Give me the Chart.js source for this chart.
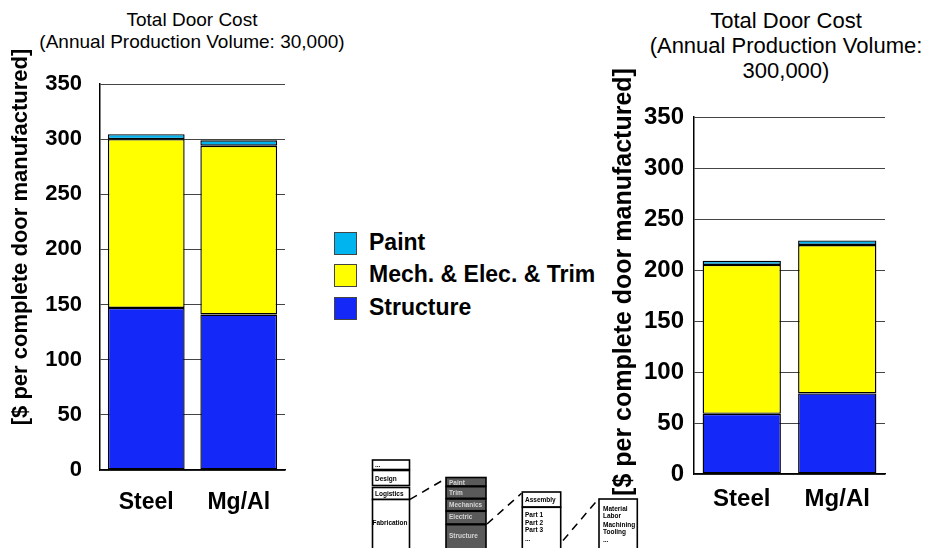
<!DOCTYPE html>
<html>
<head>
<meta charset="utf-8">
<script src="https://cdn.jsdelivr.net/npm/chart.js@4.4.0/dist/chart.umd.min.js"></script>
<style>
  html, body { margin: 0; padding: 0; background: #fff; }
  body { width: 928px; height: 548px; position: relative; overflow: hidden;
         font-family: 'Liberation Sans', Arial, sans-serif; color: #000; }
  canvas { position: absolute; }
  .title { position: absolute; text-align: center; white-space: nowrap; }
  .ytitle { position: absolute; font-weight: bold; white-space: nowrap;
            transform: translate(-50%, -50%) rotate(-90deg); }
  .legend { position: absolute; left: 334px; top: 232px; }
  .legend div { height: 32.3px; position: relative; }
  .legend span.box { position: absolute; left: 0; top: 0; width: 21px; height: 21px;
                     border: 1px solid #444; }
  .legend span.txt { position: absolute; left: 35px; top: -3px; font-size: 23px;
                     font-weight: bold; line-height: 27px; white-space: nowrap; }
  svg { position: absolute; left: 0; top: 0; }
</style>
</head>
<body>

<div class="title" style="left:192px; top:9px; transform:translateX(-50%); font-size:19px; line-height:22px;">
  Total Door Cost<br>(Annual Production Volume: 30,000)
</div>
<div class="title" style="left:786px; top:8px; transform:translateX(-50%); font-size:22px; line-height:25px;">
  Total Door Cost<br>(Annual Production Volume:<br>300,000)
</div>

<canvas id="chartLow" width="300" height="548" style="left:0; top:0;"></canvas>
<canvas id="chartHigh" width="292" height="548" style="left:636px; top:0;"></canvas>

<div class="legend" id="legend"></div>

<!-- cost breakdown sketch under the legend -->
<svg width="928" height="548" font-family="Liberation Sans, Arial, sans-serif" font-weight="bold" font-size="6.5">
  <g stroke="#000" stroke-width="1.6" fill="#fff">
    <rect x="372.5" y="460" width="37" height="9.5"/>
    <rect x="372.5" y="470.5" width="37" height="15"/>
    <rect x="372.5" y="487.5" width="37" height="12"/>
    <rect x="372.5" y="499.5" width="37" height="52"/>
  </g>
  <g fill="#000">
    <text x="375" y="467">...</text>
    <text x="375" y="481">Design</text>
    <text x="375" y="496">Logistics</text>
    <text x="372.5" y="525">Fabrication</text>
  </g>
  <g stroke="#000" stroke-width="1.6" fill="#5a5a5a">
    <rect x="446" y="477.5" width="40" height="8.5"/>
    <rect x="446" y="486.7" width="40" height="11.6"/>
    <rect x="446" y="499" width="40" height="11.7"/>
    <rect x="446" y="511.3" width="40" height="12.7"/>
    <rect x="446" y="524.7" width="40" height="27"/>
  </g>
  <g fill="#d4d4d4">
    <text x="449" y="484.5">Paint</text>
    <text x="449" y="495">Trim</text>
    <text x="449" y="506.5">Mechanics</text>
    <text x="449" y="519">Electric</text>
    <text x="449" y="538">Structure</text>
  </g>
  <g stroke="#000" stroke-width="1.6" fill="#fff">
    <rect x="522.3" y="492" width="38.4" height="15"/>
    <rect x="522.3" y="507.3" width="38.4" height="44"/>
    <rect x="599" y="499" width="38.3" height="52"/>
  </g>
  <g fill="#000">
    <text x="525" y="501.5">Assembly</text>
    <text x="525" y="517">Part 1</text>
    <text x="525" y="524.5">Part 2</text>
    <text x="525" y="532">Part 3</text>
    <text x="525" y="541">...</text>
    <text x="603" y="511">Material</text>
    <text x="603" y="518">Labor</text>
    <text x="603" y="527">Machining</text>
    <text x="603" y="533.5">Tooling</text>
    <text x="603" y="542">...</text>
  </g>
  <g stroke="#000" stroke-width="1.5" stroke-dasharray="8 6" fill="none">
    <line x1="410" y1="499.3" x2="445" y2="479"/>
    <line x1="487" y1="524" x2="521.5" y2="493.3"/>
    <line x1="563" y1="540.5" x2="597.5" y2="500"/>
  </g>
</svg>

<div class="ytitle" style="left:20px; top:237px; font-size:22px;">[$ per complete door manufactured]</div>
<div class="ytitle" style="left:622px; top:282px; font-size:25px;">[$ per complete door manufactured]</div>

<script>
// door cost in $ per door, split by cost group
const materials = ['Steel', 'Mg/Al'];
const seriesNames = ['Structure', 'Mech. & Elec. & Trim', 'Paint'];
const seriesColors = ['#1428F8', '#FFFF00', '#00B4F0'];

// annual volume 30,000
const structure30k = [147, 141];
const mechElecTrim30k = [153, 153];
const paint30k = [4.5, 5];

// annual volume 300,000
const structure300k = [59, 79];
const mechElecTrim300k = [146, 145.5];
const paint300k = [4, 4.5];

// y axis: 0 to 350, every 50
const yMin = 0, yMax = 350, yStep = 50;

const FONT = "'Liberation Sans', Arial, sans-serif";

function makeDoorChart(id, series, cfg) {
    const datasets = series.map((vals, i) => ({
        label: seriesNames[i],
        data: vals,
        backgroundColor: seriesColors[i],
        borderColor: '#000',
        borderWidth: 1.4,
        borderSkipped: false,
        categoryPercentage: 1,
        barPercentage: cfg.barPct
    }));

    return new Chart(document.getElementById(id), {
        type: 'bar',
        data: { labels: materials, datasets: datasets },
        options: {
            responsive: false,
            animation: false,
            layout: { padding: { top: cfg.top, right: cfg.right, left: 0, bottom: 0 } },
            plugins: { legend: { display: false }, tooltip: { enabled: false } },
            scales: {
                x: {
                    stacked: true,
                    grid: { display: false, drawTicks: false },
                    border: { color: '#000', width: 1.5 },
                    ticks: { color: '#000', padding: cfg.xPad,
                             font: { family: FONT, size: cfg.xFont, weight: 'bold' } },
                    afterFit: s => { s.height = cfg.xHeight; }
                },
                y: {
                    stacked: true,
                    min: yMin, max: yMax,
                    grid: { color: '#444', lineWidth: 1, drawTicks: false },
                    border: { color: '#000', width: 1.5 },
                    ticks: { stepSize: yStep, color: '#000', padding: cfg.yPad,
                             font: { family: FONT, size: cfg.yFont, weight: 'bold' } },
                    afterFit: s => { s.width = cfg.yWidth; }
                }
            }
        }
    });
}

makeDoorChart('chartLow', [structure30k, mechElecTrim30k, paint30k], {
    top: 84, right: 15, yWidth: 100, xHeight: 78,
    yPad: 18, xPad: 19, yFont: 22, xFont: 23, barPct: 0.83
});

makeDoorChart('chartHigh', [structure300k, mechElecTrim300k, paint300k], {
    top: 117, right: 43, yWidth: 58, xHeight: 74,
    yPad: 10, xPad: 11, yFont: 24, xFont: 24, barPct: 0.82
});

// legend lists the top segment first
const legend = document.getElementById('legend');
for (let i = seriesNames.length - 1; i >= 0; i--) {
    const row = document.createElement('div');
    row.innerHTML = '<span class="box" style="background:' + seriesColors[i] + '"></span>' +
                    '<span class="txt">' + seriesNames[i] + '</span>';
    legend.appendChild(row);
}
</script>
</body>
</html>
